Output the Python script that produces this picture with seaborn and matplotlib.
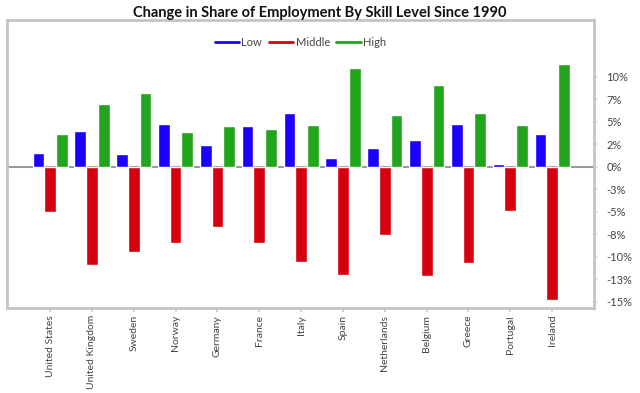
import matplotlib
matplotlib.use("Agg")
import matplotlib.pyplot as plt
from matplotlib.lines import Line2D
import seaborn as sns
import pandas as pd

countries = ["United States", "United Kingdom", "Sweden", "Norway", "Germany", "France",
             "Italy", "Spain", "Netherlands", "Belgium", "Greece", "Portugal", "Ireland"]
low = [1.5, 4.0, 1.4, 4.8, 2.4, 4.5, 6.0, 1.0, 2.1, 3.0, 4.8, 0.35, 3.6]
middle = [-5.0, -10.9, -9.5, -8.5, -6.7, -8.5, -10.6, -12.0, -7.6, -12.1, -10.7, -4.9, -14.8]
high = [3.6, 7.0, 8.2, 3.9, 4.5, 4.2, 4.6, 11.0, 5.7, 9.1, 6.0, 4.6, 11.4]
levels = ["Low", "Middle", "High"]
colors = ["#1a00ff", "#d6000f", "#22a41c"]
ytick_values = [10, 7.5, 5, 2.5, 0, -2.5, -5, -7.5, -10, -12.5, -15]
ytick_labels = ["10%", "7%", "5%", "2%", "0%", "-3%", "-5%", "-8%", "-10%", "-13%", "-15%"]
title = "Change in Share of Employment By Skill Level Since 1990"

df = pd.DataFrame({
    "country": countries * 3,
    "level": [levels[0]] * len(countries) + [levels[1]] * len(countries) + [levels[2]] * len(countries),
    "value": low + middle + high,
})

sns.set_theme(style="white")
plt.rcParams["font.family"] = ["Lato", "DejaVu Sans"]

fig = plt.figure(figsize=(6.4, 3.93), dpi=100)
ax = fig.add_axes([7 / 640, 1 - 308 / 393, 587 / 640, 288 / 393])

ax.axhline(0, color="#999999", lw=1.5, zorder=0.5)
sns.barplot(data=df, x="country", y="value", hue="level", hue_order=levels,
            palette=colors, width=0.84, saturation=1, ax=ax, legend=False,
            errorbar=None, zorder=2)

ax.set_xlim(-1.03, 13.0)
ax.set_ylim(-15.7, 16.3)
ax.yaxis.tick_right()
ax.set_yticks(ytick_values)
ax.set_yticklabels(ytick_labels)
ax.set_xticks(range(len(countries)))
ax.set_xticklabels(countries, rotation=90)
ax.set_xlabel("")
ax.set_ylabel("")
ax.tick_params(axis="x", length=3, color="#cccccc", labelsize=7.5, labelcolor="#444444", pad=2, bottom=True)
ax.tick_params(axis="y", length=3, color="#e0e0e0", labelsize=8, labelcolor="#444444", pad=6, right=True, left=False)
for s in ax.spines.values():
    s.set_visible(True)
    s.set_color("#c4c4c4")
    s.set_linewidth(2)

handles = [Line2D([0], [0], color=c, lw=2) for c in colors]
ax.legend(handles, levels, loc="upper center", bbox_to_anchor=(0.5, 0.975), ncol=3,
          frameon=False, fontsize=8, handlelength=2.2, handletextpad=0.2,
          columnspacing=0.6, labelcolor="#444444")

fig.text(0.5, 1 - 13 / 393, title, ha="center", va="center", fontsize=10.5, fontweight="bold", color="#111111")

fig.savefig("out.png", dpi=100)
